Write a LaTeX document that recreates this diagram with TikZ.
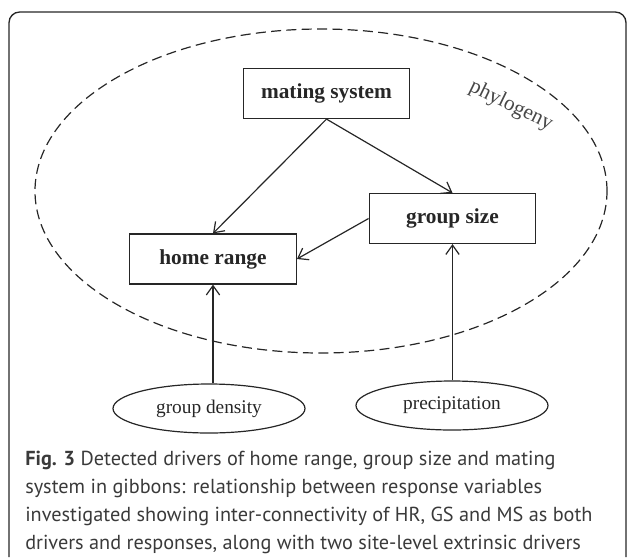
\documentclass[tikz,border=0pt]{standalone}
\usepackage{fontspec}
\setmainfont{Liberation Serif}
\newfontfamily\capfont{PT Sans}
\usetikzlibrary{shapes.geometric,arrows.meta}

\definecolor{ink}{HTML}{262626}
\definecolor{capgray}{HTML}{3A3A3A}

\tikzset{
  factor/.style={draw=ink,line width=0.9pt,rectangle,minimum width=125pt,minimum height=37.5pt,
    text=ink,font=\fontsize{16}{19}\selectfont\bfseries,inner sep=2pt},
  driver/.style={draw=ink,line width=0.9pt,ellipse,minimum width=144pt,minimum height=36.75pt,
    text=ink,font=\fontsize{14.5}{17}\selectfont,inner sep=1pt},
  link/.style={draw=ink,line width=0.9pt,-{Straight Barb[length=7pt,width=10pt,line width=0.9pt]}},
}

\begin{document}
\begin{tikzpicture}[x=0.75pt,y=-0.75pt]
            \useasboundingbox (0,0) rectangle (627,557);
            \draw[ink,line width=1pt,rounded corners=8pt] (9,557) |- (626,12) -- (626,557);

            \node[draw=ink,dashed,dash pattern=on 7.5pt off 4pt,line width=0.9pt,ellipse,
                  minimum width=429pt,minimum height=243pt,inner sep=0pt] (phylo) at (321,191) {};
            \node[rotate=-26,text=ink!85,font=\fontsize{16}{19}\selectfont] (phylolab) at (511,106) {phylogeny};

            \node[factor] (ms) at (326.5,93.5) {mating system};
            \node[factor] (gs) at (452.5,218.5) {group size};
            \node[factor] (hr) at (213,259) {home range};

            \node[driver] (gd) at (209,408.5) {group density};
            \node[driver] (prec) at (452,405.5) {precipitation};

            \draw[link] (ms.south) -- (gs.north);
            \draw[link] (ms.south) -- (hr.north);
            \draw[link] (gs.west) -- (hr.east);
            \draw[link] (hr.south |- gd.north) -- (hr.south);
            \draw[link] (gs.south |- prec.north) -- (gs.south);

            \node[anchor=base west,align=left,text=capgray,inner sep=0pt,
                  font=\capfont\fontsize{15.2}{20.8}\selectfont] (caption) at (25,549)
                  {\textbf{Fig. 3} Detected drivers of home range, group size and mating\\
                   system in gibbons: relationship between response variables\\
                   investigated showing inter-connectivity of HR, GS and MS as both\\
                   drivers and responses, along with two site-level extrinsic drivers};
          \end{tikzpicture}
\end{document}
